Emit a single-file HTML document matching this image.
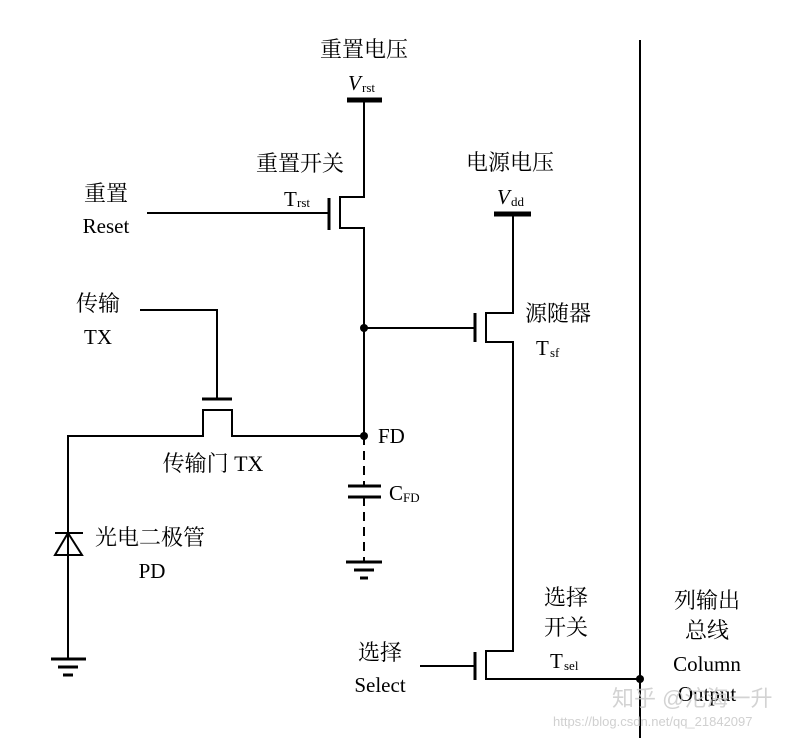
<!DOCTYPE html>
<html><head><meta charset="utf-8"><style>
html,body{margin:0;padding:0;background:#fff;}
svg{display:block}
text{font-family:"Liberation Serif","Noto Serif CJK SC","Noto Sans CJK SC",serif;fill:#000;}
.c{font-size:22px}
.l{font-size:21px}
.s{font-size:13px}
</style></head><body>
<svg width="804" height="738" viewBox="0 0 804 738" xmlns="http://www.w3.org/2000/svg">
<g stroke="#000" stroke-width="2" fill="none">
<!-- Vrst -->
<line x1="347" y1="100" x2="382" y2="100" stroke-width="5"/>
<polyline points="364,100 364,197 340,197 340,228 364,228 364,436"/>
<line x1="329" y1="198" x2="329" y2="230" stroke-width="3"/>
<line x1="147" y1="213" x2="329" y2="213"/>
<!-- SF -->
<line x1="364" y1="328" x2="475" y2="328"/>
<line x1="475" y1="313" x2="475" y2="342" stroke-width="3"/>
<polyline points="513,214 513,313 486,313 486,342 513,342 513,651 486,651 486,679 640,679"/>
<line x1="494" y1="214" x2="531" y2="214" stroke-width="5"/>
<!-- select gate -->
<line x1="475" y1="652" x2="475" y2="680" stroke-width="3"/>
<line x1="420" y1="666" x2="475" y2="666"/>
<!-- column -->
<line x1="640" y1="40" x2="640" y2="738"/>
<!-- TX -->
<polyline points="364,436 232,436 232,410 203,410 203,436 68,436 68,659"/>
<line x1="202" y1="399" x2="232" y2="399" stroke-width="3"/>
<polyline points="140,310 217,310 217,399"/>
<!-- diode -->
<line x1="55" y1="533" x2="83" y2="533"/>
<polygon points="68,533 55,555 82,555"/>
<!-- ground PD -->
<line x1="51" y1="659" x2="86" y2="659" stroke-width="3"/>
<line x1="58" y1="667" x2="78" y2="667" stroke-width="3"/>
<line x1="63" y1="675" x2="73" y2="675" stroke-width="3"/>
<!-- FD dashed -->
<line x1="364" y1="436" x2="364" y2="486" stroke-dasharray="9,6"/>
<line x1="364" y1="497" x2="364" y2="561" stroke-dasharray="9,6"/>
<line x1="348" y1="486" x2="381" y2="486" stroke-width="3"/>
<line x1="348" y1="497" x2="381" y2="497" stroke-width="3"/>
<line x1="346" y1="562" x2="382" y2="562" stroke-width="3"/>
<line x1="354" y1="570" x2="374" y2="570" stroke-width="3"/>
<line x1="360" y1="578" x2="368" y2="578" stroke-width="3"/>
</g>
<g fill="#000">
<circle cx="364" cy="328" r="4"/>
<circle cx="364" cy="436" r="4"/>
<circle cx="640" cy="679" r="4"/>
</g>
<text class="c" x="364" y="57" text-anchor="middle">重置电压</text>
<text class="l" x="348" y="90" font-style="italic">V</text><text class="s" x="362" y="92">rst</text>
<text class="c" x="300" y="171" text-anchor="middle">重置开关</text>
<text class="l" x="284" y="206">T</text><text class="s" x="297" y="207">rst</text>
<text class="c" x="106" y="201" text-anchor="middle">重置</text>
<text class="l" x="106" y="233" text-anchor="middle">Reset</text>
<text class="c" x="98" y="311" text-anchor="middle">传输</text>
<text class="l" x="98" y="344" text-anchor="middle">TX</text>
<text class="l" x="378" y="443">FD</text>
<text class="c" x="213" y="471" text-anchor="middle">传输门 TX</text>
<text class="l" x="389" y="500">C</text><text class="s" x="403" y="502">FD</text>
<text class="c" x="95" y="545">光电二极管</text>
<text class="l" x="152" y="578" text-anchor="middle">PD</text>
<text class="c" x="510" y="170" text-anchor="middle">电源电压</text>
<text class="l" x="497" y="204" font-style="italic">V</text><text class="s" x="511" y="206">dd</text>
<text class="c" x="525" y="321">源随器</text>
<text class="l" x="536" y="355">T</text><text class="s" x="550" y="357">sf</text>
<text class="c" x="566" y="605" text-anchor="middle">选择</text>
<text class="c" x="566" y="635" text-anchor="middle">开关</text>
<text class="l" x="550" y="668">T</text><text class="s" x="564" y="670">sel</text>
<text class="c" x="380" y="660" text-anchor="middle">选择</text>
<text class="l" x="380" y="692" text-anchor="middle">Select</text>
<text class="c" x="707" y="608" text-anchor="middle">列输出</text>
<text class="c" x="707" y="638" text-anchor="middle">总线</text>
<text class="l" x="707" y="671" text-anchor="middle">Column</text>
<text class="l" x="707" y="701" text-anchor="middle">Output</text>
<text x="612" y="706" style="font-family:'Liberation Sans','Noto Sans CJK SC',sans-serif;font-size:22px;fill:#c8c8c8;fill-opacity:0.8">知乎 @沱海一升</text>
<text x="553" y="726" style="font-family:'Liberation Sans',sans-serif;font-size:13px;fill:#d0d0d0">https://blog.csdn.net/qq_21842097</text>
</svg>
</body></html>
